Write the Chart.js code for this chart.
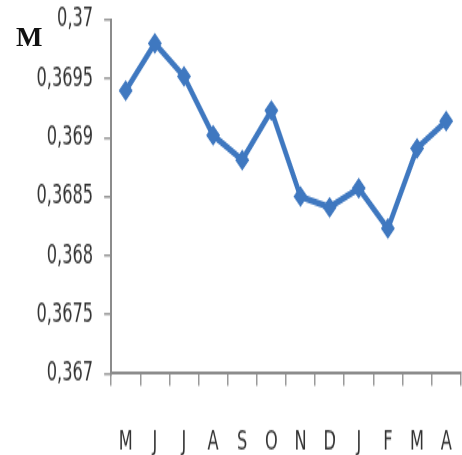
<!DOCTYPE html>
<html>
<head>
<meta charset="utf-8">
<script src="https://cdn.jsdelivr.net/npm/chart.js@4.4.1/dist/chart.umd.min.js"></script>
<style>
  html, body { margin: 0; padding: 0; background: #fff; width: 462px; height: 455px; overflow: hidden; position: relative; }
  #wrap { position: absolute; left: 0; top: -12.8px; width: 479px; height: 341px; transform-origin: 0 0; transform: scale(1, 1.5017); }
  #title { position: absolute; left: 16px; top: 23px; font-family: "Liberation Serif", serif; font-weight: bold; font-size: 28px; color: #111; line-height: 1; }
</style>
</head>
<body>
<div id="wrap"><canvas id="c" width="479" height="341" style="width:479px;height:341px"></canvas></div>
<div id="title">M</div>
<script>
const categories = ["M", "J", "J", "A", "S", "O", "N", "D", "J", "F", "M", "A"];
const seriesM = [0.36940, 0.36980, 0.36952, 0.36902, 0.36881, 0.36923, 0.36850, 0.36841, 0.36857, 0.36823, 0.36891, 0.36914];
const yMin = 0.367, yMax = 0.370, yStep = 0.0005;

function fmt(v) { return String(Number(v.toFixed(4))).replace('.', ','); }

const tickFont = { family: "'DejaVu Sans Condensed', 'Liberation Sans', sans-serif", size: 18 };

new Chart(document.getElementById('c'), {
  type: 'line',
  data: {
    labels: categories,
    datasets: [{
      data: seriesM,
      borderColor: '#3f78c0',
      backgroundColor: '#3f78c0',
      borderWidth: 4.5,
      pointStyle: 'rectRot',
      pointRadius: 7,
      pointBorderWidth: 0,
      tension: 0,
      fill: false
    }]
  },
  options: {
    responsive: false,
    animation: false,
    devicePixelRatio: 1,
    layout: { padding: { left: 25.5, right: 1, top: 4.5, bottom: 0 } },
    plugins: { legend: { display: false }, tooltip: { enabled: false } },
    scales: {
      x: {
        offset: true,
        grid: { display: true, offset: true, drawOnChartArea: false, drawTicks: true, tickLength: 8, color: '#9a9a9a', lineWidth: 1.5 },
        border: { display: true, color: '#8c8c8c', width: 2 },
        ticks: { color: '#333', padding: 27, font: tickFont, maxRotation: 0, autoSkip: false }
      },
      y: {
        min: yMin, max: yMax,
        grid: { display: true, drawOnChartArea: false, drawTicks: true, tickLength: 7, color: '#9a9a9a', lineWidth: 1.5 },
        border: { display: true, color: '#8c8c8c', width: 2 },
        ticks: { stepSize: yStep, color: '#333', padding: 11, font: tickFont, callback: (v) => fmt(v) }
      }
    }
  }
});
</script>
</body>
</html>
